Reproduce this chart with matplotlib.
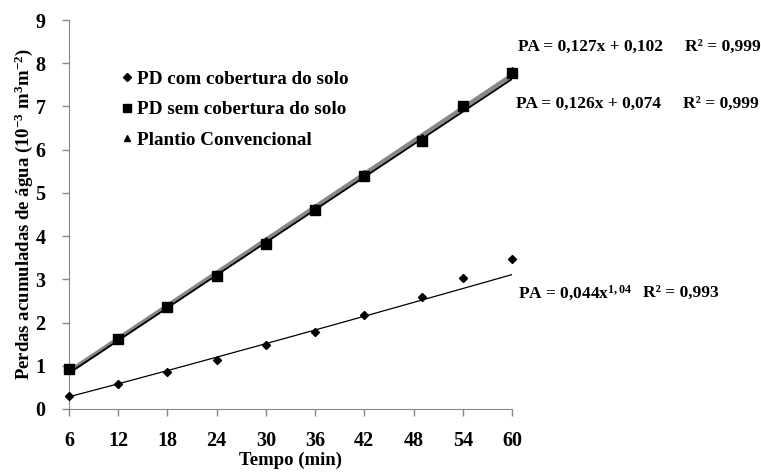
import numpy as np
import matplotlib.pyplot as plt
from matplotlib.lines import Line2D

plt.rcParams['font.family'] = ['Liberation Serif', 'DejaVu Serif']
plt.rcParams['font.weight'] = 'bold'
plt.rcParams['mathtext.fontset'] = 'custom'
plt.rcParams['mathtext.rm'] = 'Liberation Serif:bold'
plt.rcParams['mathtext.bf'] = 'Liberation Serif:bold'
plt.rcParams['mathtext.it'] = 'Liberation Serif:bold'
plt.rcParams['mathtext.default'] = 'bf'

# tempo (min)
tempo = [6, 12, 18, 24, 30, 36, 42, 49, 54, 60]
xticks = [6, 12, 18, 24, 30, 36, 42, 48, 54, 60]

# perdas acumuladas (10^-3 m3 m-2)
pd_com = [0.30, 0.57, 0.85, 1.13, 1.47, 1.78, 2.17, 2.60, 3.02, 3.46]
pd_sem = [0.92, 1.63, 2.35, 3.08, 3.82, 4.60, 5.40, 6.20, 7.00, 7.78]
convencional = [0.95, 1.66, 2.38, 3.12, 3.90, 4.68, 5.45, 6.30, 7.02, 7.85]

fig = plt.figure(figsize=(7.61, 4.72), dpi=100)
ax = fig.add_axes([0.0907, 0.1335, 0.582, 0.824])

xx = np.linspace(6, 60, 100)
# linhas de tendencia
ax.plot(xx, 0.127 * xx + 0.102, color='#888888', lw=3.2, zorder=2)
ax.plot(xx, 0.126 * xx + 0.074, color='black', lw=1.3, zorder=3)
ax.plot(xx, 0.044 * xx ** 1.04, color='black', lw=0.9, zorder=2)

ax.plot(tempo, convencional, '^', color='black', ms=5, ls='none', zorder=4, clip_on=False)
ax.plot(tempo, pd_sem, 's', color='black', ms=7, ls='none', zorder=5, clip_on=False)
ax.plot(tempo, pd_com, 'D', color='black', ms=4.5, ls='none', zorder=5, clip_on=False)

ax.set_xlim(6, 60)
ax.set_ylim(0, 9)
ax.set_xticks(xticks)
ax.set_yticks(range(0, 10))
for s in ['top', 'right']:
    ax.spines[s].set_visible(False)
for s in ['left', 'bottom']:
    ax.spines[s].set_color('#888888')
ax.tick_params(colors='#888888', labelcolor='black', labelsize=14.5, length=5, width=1)
ax.tick_params(axis='x', pad=11)
ax.tick_params(axis='y', pad=12)
for lab in ax.get_xticklabels() + ax.get_yticklabels():
    lab.set_fontweight('bold')

ax.set_xlabel('Tempo (min)', fontsize=13.5, fontweight='bold', labelpad=0)
ax.set_ylabel('Perdas acumuladas de água (10$^{-3}$ m$^{3}$m$^{-2}$)',
              fontsize=13.5, fontweight='bold', labelpad=0.5)

handles = [Line2D([], [], marker='D', color='black', ls='none', ms=4),
           Line2D([], [], marker='s', color='black', ls='none', ms=6),
           Line2D([], [], marker='^', color='black', ls='none', ms=5)]
labels = ['PD com cobertura do solo', 'PD sem cobertura do solo', 'Plantio Convencional']
ax.legend(handles, labels, loc='upper left', bbox_to_anchor=(0.075, 0.915), frameon=False,
          prop={'family': 'Liberation Serif', 'weight': 'bold', 'size': 13.8},
          handletextpad=0.1, handlelength=0.8, labelspacing=0.68)

fs = 12.5
fig.text(518 / 761, 1 - 47 / 472, 'PA = 0,127x + 0,102', fontsize=fs, fontweight='bold', va='center')
fig.text(685 / 761, 1 - 47 / 472, 'R² = 0,999', fontsize=fs, fontweight='bold', va='center')
fig.text(516 / 761, 1 - 104 / 472, 'PA = 0,126x + 0,074', fontsize=fs, fontweight='bold', va='center')
fig.text(683 / 761, 1 - 104 / 472, 'R² = 0,999', fontsize=fs, fontweight='bold', va='center')
fig.text(518 / 761, 1 - 293 / 472, 'PA = 0,044x$^{1,04}$', fontsize=fs, fontweight='bold', va='center')
fig.text(643 / 761, 1 - 293 / 472, 'R² = 0,993', fontsize=fs, fontweight='bold', va='center')

fig.savefig('out.png', dpi=100)
